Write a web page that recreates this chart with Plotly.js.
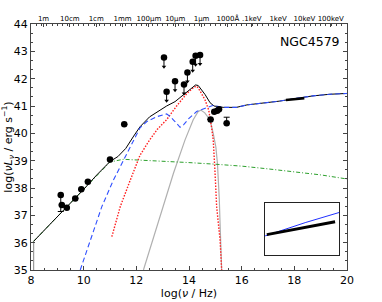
<!DOCTYPE html>
<html>
<head>
<meta charset="utf-8">
<script src="https://cdn.plot.ly/plotly-3.0.1.min.js"></script>
<style>html,body{margin:0;padding:0;background:#fff;}#chart{width:382px;height:302px;}</style>
</head>
<body>
<div id="chart"></div>
<script>
// Total model (black)
const totalX = [8.1,8.5,9,9.5,10,10.5,11,11.3,11.6,11.9,12.14,12.5,12.9,13.15,13.47,13.79,14.05,14.25,14.35,14.45,14.61,14.8,14.95,15.3,15.8,16.2,16.8,17.45,18.08,18.71,19.35,20];
const totalY = [36.05,36.45,36.95,37.42,37.95,38.48,38.97,39.15,39.45,39.9,40.24,40.6,40.85,41.0,41.16,41.4,41.6,41.77,41.75,41.63,41.42,41.12,41.0,40.95,40.95,41.04,41.1,41.18,41.28,41.37,41.43,41.46];
// AGN component (blue dashed)
const agnX = [9.87,10.25,10.69,11.13,11.51,11.89,12.14,12.4,12.78,13.15,13.3,13.45,13.66,13.8,14.0,14.29,14.6,14.9,15.3,15.8,16.2,16.8,17.45,18.08,18.71,19.35,20];
const agnY = [35.0,36.1,37.32,38.29,39.02,39.76,40.2,40.43,40.61,40.71,40.6,40.45,40.22,40.32,40.55,40.8,40.92,41.02,40.95,40.95,41.04,41.1,41.18,41.28,41.37,41.43,41.46];
// Starburst / stellar component (red dotted)
const starX = [11.07,11.39,11.77,12.14,12.5,12.8,13.15,13.53,13.91,14.2,14.3,14.42,14.61,14.75,14.86,14.92,14.99,15.05,15.18,15.24];
const starY = [36.22,37.32,38.29,39.2,39.75,40.15,40.5,41.0,41.45,41.7,41.72,41.55,41.22,40.85,40.2,39.76,38.54,37.32,36.1,35.0];
// Host component (grey)
const hostX = [12.27,12.91,13.41,13.85,14.16,14.35,14.45,14.6,14.8,14.92,15.02,15.08,15.12,15.15,15.18,15.24];
const hostY = [35.0,36.95,38.54,39.76,40.5,40.8,40.85,40.75,40.49,40.0,39.5,38.9,38.3,37.6,36.7,35.0];
// Radio / jet component (green dash-dot)
const jetX = [8.1,8.5,9,9.5,10,10.5,11,11.5,12,13,14,15,16,17,18,19,20];
const jetY = [36.05,36.45,36.95,37.42,37.95,38.45,38.95,39.05,39.03,38.97,38.93,38.87,38.8,38.7,38.6,38.48,38.33];
// Low-frequency cut (grey vertical)
const cutX = [8.1,8.1];
const cutY = [35,36.05];
// Photometric detections
const detX = [9.13,9.17,9.36,9.68,9.91,10.16,11.0,11.54,14.82,14.96,15.07,15.14,15.43];
const detY = [37.74,37.38,37.28,37.62,37.95,38.23,39.04,40.33,40.51,40.79,40.83,40.88,40.37];
const detErrMinus = [0.6,0,0,0,0,0,0,0,0,0,0,0,0];
const detErrPlus = [0,0,0,0,0,0,0,0,0,0,0,0,0.22];
// Upper limits
const ulX = [13.05,13.15,13.47,13.81,13.94,14.14,14.25,14.42];
const ulY = [42.77,41.52,41.91,41.79,42.23,42.62,42.84,42.87];
const ulLen = 0.33;
// X-ray spectrum (2-10 keV)
const xrayX = [17.68,18.38];
const xrayY = [41.22,41.283];
// Top axis: wavelength / energy labels
const topVals = [8.477,9.477,10.477,11.477,12.477,13.477,14.477,15.477,16.383,17.383,18.383,19.383];
const topText = ['1m','10cm','1cm','1mm','100μm','10μm','1μm','1000Å','.1keV','1keV','10keV','100keV'];

const ulTipY = ulY.map(v => v - ulLen);
const ulErr = ulY.map(() => ulLen);

const traces = [
  {x: cutX, y: cutY, mode:'lines', line:{color:'#999999', width:1.2}},
  {x: hostX, y: hostY, mode:'lines', line:{color:'#b0b0b0', width:1.2}},
  {x: jetX, y: jetY, mode:'lines', line:{color:'#2ca02c', width:1, dash:'4px,2px,1px,2px'}},
  {x: starX, y: starY, mode:'lines', line:{color:'#ff2020', width:1.4, dash:'1.5px,1.5px'}},
  {x: totalX, y: totalY, mode:'lines', line:{color:'#000000', width:1}},
  {x: agnX, y: agnY, mode:'lines', line:{color:'#3050ff', width:1.1, dash:'5px,3px'}},
  {x: xrayX, y: xrayY, mode:'lines', line:{color:'#000000', width:2.5}},
  {x: detX, y: detY, mode:'markers', marker:{color:'#000', size:6.5},
   error_y:{type:'data', symmetric:false, array:detErrPlus, arrayminus:detErrMinus, color:'#000', thickness:1, width:3}},
  {x: ulX, y: ulY, mode:'markers', marker:{color:'#000', size:6.5},
   error_y:{type:'data', symmetric:false, array:ulX.map(()=>0), arrayminus:ulErr, color:'#000', thickness:1, width:0}},
  {x: ulX, y: ulTipY, mode:'markers', marker:{color:'#000', size:4, symbol:'triangle-down'}},
  // inset
  {x: agnX, y: agnY, xaxis:'x2', yaxis:'y2', mode:'lines', line:{color:'#2030ff', width:1}},
  {x: xrayX, y: xrayY, xaxis:'x2', yaxis:'y2', mode:'lines', line:{color:'#000', width:3}},
  // invisible trace for top axis
  {x: [8,20], y: [35,35], xaxis:'x3', yaxis:'y', mode:'markers', marker:{opacity:0}, hoverinfo:'skip'}
];
traces.forEach(t => t.showlegend = false);

const axCol = '#444';
const layout = {
  width: 382, height: 302,
  margin: {l:31, r:35, t:24, b:32},
  paper_bgcolor:'#fff', plot_bgcolor:'#fff',
  font: {family:'DejaVu Sans', color:'#000', size:11},
  showlegend:false,
  xaxis: {range:[8,20], tickmode:'array', tickvals:[8,10,12,14,16,18,20], ticks:'inside', ticklen:4, tickcolor:axCol,
    showline:true, linecolor:axCol, linewidth:1, mirror:true, showgrid:false, zeroline:false,
    tickfont:{size:11}, title:{text:'log(<i>ν</i> / Hz)', font:{size:11}, standoff:2},
    minor:{tickmode:'linear', tick0:8, dtick:0.5, ticks:'inside', ticklen:2, tickcolor:axCol, showgrid:false}},
  xaxis3: {overlaying:'x', side:'top', range:[8,20], tickmode:'array', tickvals:topVals, ticktext:topText,
    ticks:'inside', ticklen:3, tickcolor:axCol, showline:false, showgrid:false, zeroline:false,
    tickfont:{size:7}, tickangle:0, ticklabelstandoff:1,
    minor:{tickmode:'linear', tick0:8, dtick:0.2, ticks:'inside', ticklen:2, tickcolor:axCol, showgrid:false}},
  yaxis: {range:[35,44], tickmode:'linear', tick0:35, dtick:1, ticks:'inside', ticklen:4, tickcolor:axCol,
    showline:true, linecolor:axCol, linewidth:1, mirror:'ticks', showgrid:false, zeroline:false,
    tickfont:{size:11}, title:{text:'log(<i>νL</i><sub><i>ν</i></sub> / erg s<sup>−1</sup>)', font:{size:11}, standoff:4},
    minor:{tickmode:'linear', tick0:35, dtick:1/3, ticks:'inside', ticklen:2, tickcolor:axCol, showgrid:false}},
  xaxis2: {domain:[0.741,0.975], anchor:'y2', range:[17.663,18.421], showticklabels:false, ticks:'',
    showline:true, linecolor:'#222', linewidth:1, mirror:true, showgrid:false, zeroline:false},
  yaxis2: {domain:[0.061,0.272], anchor:'x2', range:[41.12,41.375], showticklabels:false, ticks:'',
    showline:true, linecolor:'#222', linewidth:1, mirror:true, showgrid:false, zeroline:false},
  annotations: [
    {text:'NGC4579', xref:'paper', yref:'paper', x:0.985, y:0.93, xanchor:'right', yanchor:'middle', showarrow:false, font:{size:12.5, color:'#000'}}
  ]
};

Plotly.newPlot('chart', traces, layout, {staticPlot:true, displayModeBar:false});
</script>
</body>
</html>
